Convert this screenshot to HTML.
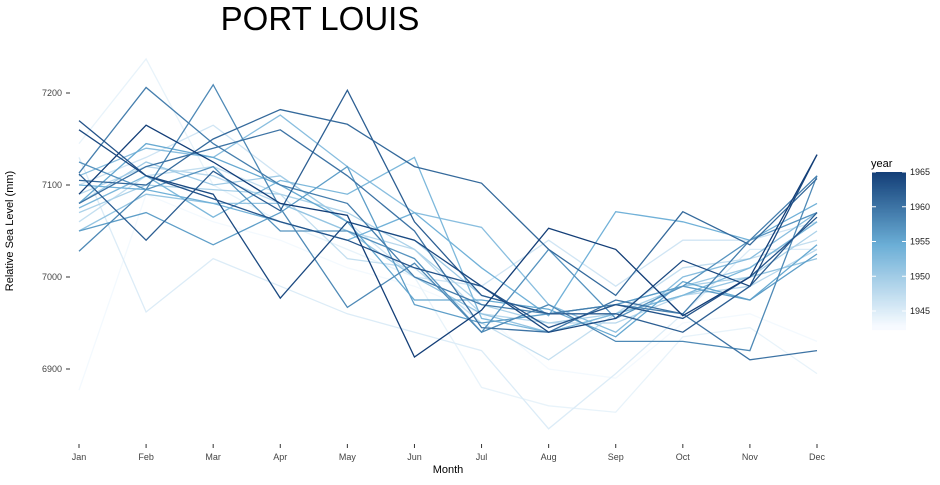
<!DOCTYPE html>
<html><head><meta charset="utf-8"><style>
body{margin:0;background:#fff;font-family:"Liberation Sans",Arial,sans-serif}
svg text{font-family:"Liberation Sans",Arial,sans-serif}
</style></head><body>
<svg id="c" width="940" height="480">
<text x="320" y="30" font-size="33" text-anchor="middle" fill="#000">PORT LOUIS</text>
<g id="plot"></g>
<text x="448" y="473" font-size="11" text-anchor="middle">Month</text>
<text transform="translate(13,231) rotate(-90)" font-size="11" text-anchor="middle">Relative Sea Level (mm)</text>
<g id="legend">
<text x="871" y="167" font-size="11">year</text>
</g>
</svg>
<script>
const months=["Jan","Feb","Mar","Apr","May","Jun","Jul","Aug","Sep","Oct","Nov","Dec"];
const yTicks=[6900,7000,7100,7200];
const years=[1943,1944,1945,1946,1947,1948,1949,1950,1951,1952,1953,1954,1955,1956,1957,1958,1959,1960,1961,1962,1963,1964,1965];
const s1943=[6877,7090,7060,7040,7010,6990,6960,6900,6890,6950,6960,6930];
const s1944=[7145,7237,7100,7060,7030,7000,6880,6860,6853,6935,6945,6895];
const s1945=[7130,6962,7020,6990,6960,6940,6920,6835,6895,6960,7030,7030];
const s1946=[7100,7130,7165,7110,7060,7000,6990,7040,6990,7040,7040,7060];
const s1947=[7060,7110,7120,7090,7020,7010,6950,6910,6960,7010,7020,7040];
const s1948=[7090,7120,7110,7080,7050,7030,6960,6950,6950,6980,6990,7030];
const s1949=[7070,7100,7095,7090,7070,7030,6970,6950,6960,6990,7000,7050];
const s1950=[7080,7125,7100,7110,7060,7040,6980,6960,6970,6990,7010,7060];
const s1951=[7050,7090,7080,7080,7050,7000,6960,6940,6960,6980,7000,7020];
const s1952=[7110,7140,7130,7176,7120,7070,7054,6970,6940,7000,7020,7070];
const s1953=[7075,7110,7065,7105,7090,7130,6955,6940,6960,6980,7010,7060];
const s1954=[7100,7095,7080,7060,7040,7070,7010,6958,7071,7060,7040,7080];
const s1955=[7080,7145,7130,7100,7060,6975,6975,6965,6935,6995,6975,7035];
const s1956=[7050,7070,7035,7070,7120,6970,6950,6960,6970,6990,6975,7025];
const s1957=[7125,7095,7120,7050,7050,7020,6940,7030,6955,6990,7040,7070];
const s1958=[7028,7095,7209,7075,6967,7015,6940,6970,6930,6930,6920,7110];
const s1959=[7113,7206,7145,7100,7080,7000,6970,6960,6970,6960,7040,7110];
const s1960=[7080,7120,7140,7160,7110,7050,6945,6940,6975,6960,6910,6920];
const s1961=[7105,7100,7150,7182,7166,7120,7102,7030,6980,7071,7035,7107];
const s1962=[7112,7040,7115,7072,7203,7060,6980,6960,6960,6940,6990,7070];
const s1963=[7170,7110,7085,7060,7040,7010,6990,6945,6970,6955,7000,7065];
const s1964=[7160,7110,7090,6977,7060,7040,6990,6940,6955,7018,6990,7133];
const s1965=[7090,7165,7125,7080,7067,6913,6964,7053,7030,6958,7000,7133];
const series=[s1943,s1944,s1945,s1946,s1947,s1948,s1949,s1950,s1951,s1952,s1953,s1954,s1955,s1956,s1957,s1958,s1959,s1960,s1961,s1962,s1963,s1964,s1965];
const legendYears=[1945,1950,1955,1960,1965];

const NS="http://www.w3.org/2000/svg";
const X=i=>79+i*(817-79)/11;
const Y=v=>277-(v-7000)*0.92;
const LY=yr=>311-(yr-1945)*6.95;
function col(t){
  const stops=[[0,[247,251,255]],[0.5,[107,174,214]],[1,[8,48,107]]];
  t=Math.max(0,Math.min(1,t));
  let a=stops[0],b=stops[1];
  if(t>0.5){a=stops[1];b=stops[2];}
  const u=(t-a[0])/(b[0]-a[0]);
  const c=a[1].map((v,k)=>Math.round(v+(b[1][k]-v)*u));
  return `rgb(${c[0]},${c[1]},${c[2]})`;
}
const yMin=1942.7,yMax=1966.3;
const plot=document.getElementById('plot');
yTicks.forEach(v=>{
  const t=document.createElementNS(NS,'line');
  t.setAttribute('x1',66);t.setAttribute('x2',70);t.setAttribute('y1',Y(v));t.setAttribute('y2',Y(v));t.setAttribute('stroke','#333');
  
  
  plot.appendChild(t);
  const l=document.createElementNS(NS,'text');
  l.setAttribute('x',62);l.setAttribute('y',Y(v)+3);l.setAttribute('font-size','9');l.setAttribute('text-anchor','end');l.setAttribute('fill','#444');
  l.textContent=v;
  
  
  plot.appendChild(l);
});
months.forEach((m,i)=>{
  const t=document.createElementNS(NS,'line');
  t.setAttribute('x1',X(i));t.setAttribute('x2',X(i));t.setAttribute('y1',444);t.setAttribute('y2',448);t.setAttribute('stroke','#333');
  
  
  plot.appendChild(t);
  const l=document.createElementNS(NS,'text');
  l.setAttribute('x',X(i));l.setAttribute('y',460);l.setAttribute('font-size','9');l.setAttribute('text-anchor','middle');l.setAttribute('fill','#444');
  l.textContent=m;
  
  
  plot.appendChild(l);
});
series.forEach((s,k)=>{
  const p=document.createElementNS(NS,'polyline');
  p.setAttribute('points',s.map((v,i)=>X(i)+','+Y(v)).join(' '));
  p.setAttribute('fill','none');
  p.setAttribute('stroke',col((years[k]-yMin)/(yMax-yMin)));
  p.setAttribute('stroke-width','1.3');
  
  
  plot.appendChild(p);
});
const lg=document.getElementById('legend');
for(let yy=330;yy>172;yy-=1){
  const yr=1945+(311-yy)/6.95;
  const r=document.createElementNS(NS,'rect');
  r.setAttribute('x',872);r.setAttribute('y',yy-1);r.setAttribute('width',34);r.setAttribute('height',1.2);
  r.setAttribute('fill',col((yr-yMin)/(yMax-yMin)));
  
  
  lg.appendChild(r);
}
legendYears.forEach(yr=>{
  [872,902].forEach(x=>{
    const t=document.createElementNS(NS,'line');
    t.setAttribute('x1',x);t.setAttribute('x2',x+4);t.setAttribute('y1',LY(yr));t.setAttribute('y2',LY(yr));t.setAttribute('stroke','#fff');
    
    
    lg.appendChild(t);
  });
  const l=document.createElementNS(NS,'text');
  l.setAttribute('x',910);l.setAttribute('y',LY(yr)+3);l.setAttribute('font-size','9');l.setAttribute('fill','#222');
  l.textContent=yr;
  
  
  lg.appendChild(l);
});
</script>
</body></html>
